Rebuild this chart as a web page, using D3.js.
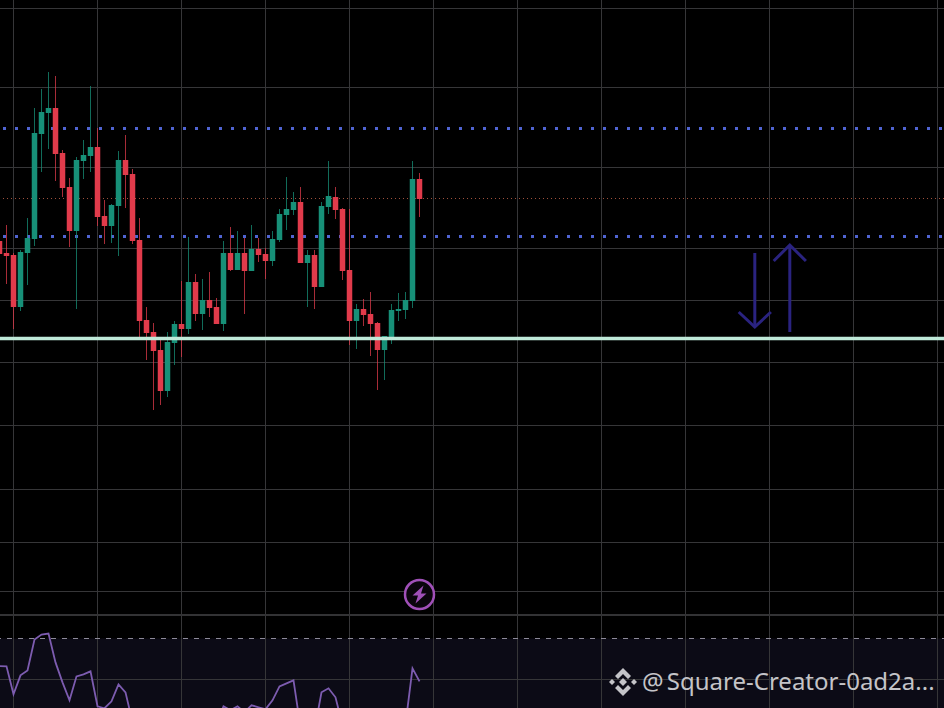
<!DOCTYPE html>
<html>
<head>
<meta charset="utf-8">
<script src="https://cdn.jsdelivr.net/npm/d3@7"></script>
<style>
html, body { margin: 0; padding: 0; background: #000; overflow: hidden; }
svg { display: block; }
</style>
</head>
<body>
<svg id="chart" width="944" height="708"></svg>
<script>
// candles, no axis labels on the picture so prices are in chart units
var opens  = [467,455,453,401,455,469,574,595,600,555,521,477,547,552,561,492,482,502,548,534,468,388,376,358,317,365,384,379,426,394,408,401,384,455,438,455,437,459,454,447,468,493,498,506,445,453,421,501,511,499,438,387,399,394,385,358,371,397,398,407,529];
var highs  = [488,483,455,458,490,600,619,636,632,558,530,551,568,622,580,508,504,557,573,539,490,401,385,371,376,387,427,471,434,429,436,410,467,481,477,470,483,470,460,477,499,531,516,521,458,458,506,547,521,500,499,404,409,416,386,372,404,415,416,547,535];
var lows   = [452,424,379,397,423,462,536,559,527,511,461,399,529,536,482,464,465,452,500,464,371,348,298,303,311,343,351,374,387,378,391,384,377,437,438,394,437,446,429,442,466,478,493,445,401,399,421,494,489,428,363,359,382,352,318,328,364,387,389,400,491];
var closes = [454,452,401,456,470,575,596,600,554,520,477,548,553,561,491,482,503,548,533,467,387,375,357,317,366,384,379,426,394,408,400,384,455,438,455,437,459,453,447,469,494,499,506,445,453,421,502,512,498,437,387,399,393,384,358,372,398,399,408,529,509];

// rsi style line in the bottom panel, runs below the page edge in places
var rsi = [56.2,56,42,51.5,54,69.5,72,72.5,58,48,39,51,52,53.5,36,35,38.5,47,43,28,24,22,19,16,20,24,22,25,23,24,26,26.5,36,34,36,33,36.5,35.5,34.5,39,46,47.5,49,25.5,21.5,24,43,45,40.5,26.5,22,20,21,19,16,17,22,24,27,55,48.5];

var gridPrices = [699.5,620.5,540.5,459.5,407.5,345.5,282.5,218.5,165.5,116.5,28.5];
var gridCandles = [2,14,26,38,50,62,74,86,98,110,122,134];
var panelTopPrice = 70;   // rsi level of the dashed line
var paneEdgePrice = 93;   // thick line above the panel
var bluePrices = [579.5,471.5];
var redPrice = 509.5;
var supportPrice = 369.5;

// hand drawn arrows, in candle index / price
var downArrow = [[107.9,455],[107.9,381]];
var downHead = [[105.6,396],[107.9,381],[110.2,396]];
var upArrow = [[112.9,376],[112.9,463]];
var upHead = [[110.6,447],[112.9,463],[115.2,447]];

var watermark = "@ Square-Creator-0ad2a...";

var width = 944, height = 708;
var svg = d3.select("#chart");

var x = d3.scaleLinear().domain([0,134]).range([-0.5,937.5]);
var y = d3.scaleLinear().domain([0,708]).range([708,0]);
var yRsi = d3.scaleLinear().domain([0,70]).range([778,638.5]);

svg.append("rect").attr("width", width).attr("height", height).attr("fill", "#000");

// bottom panel
svg.append("rect")
	.attr("x", 0).attr("y", yRsi(panelTopPrice)).attr("width", width)
	.attr("height", height-yRsi(panelTopPrice)).attr("fill", "#0c0b16");

// grid
svg.selectAll(".hgrid").data(gridPrices).join("line")
	.attr("x1", 0).attr("x2", width)
	.attr("y1", function(d){ return y(d); }).attr("y2", function(d){ return y(d); })
	.attr("stroke", "#363638").attr("stroke-width", 1);
svg.selectAll(".vgrid").data(gridCandles).join("line")
	.attr("y1", 0).attr("y2", height)
	.attr("x1", function(d){ return x(d); }).attr("x2", function(d){ return x(d); })
	.attr("stroke", "#363638").attr("stroke-width", 1);
svg.append("line")
	.attr("x1", 0).attr("x2", width).attr("y1", y(paneEdgePrice)).attr("y2", y(paneEdgePrice))
	.attr("stroke", "#333335").attr("stroke-width", 2);

// levels behind the candles
svg.selectAll(".blue").data(bluePrices).join("line")
	.attr("x1", 3).attr("x2", width)
	.attr("y1", function(d){ return y(d); }).attr("y2", function(d){ return y(d); })
	.attr("stroke", "#5064d2").attr("stroke-width", 3).attr("stroke-dasharray", "3 9");
svg.append("line")
	.attr("x1", 3).attr("x2", width).attr("y1", y(redPrice)).attr("y2", y(redPrice))
	.attr("stroke", "#a0503c").attr("stroke-width", 1).attr("stroke-dasharray", "1 3");

// candles
var barw = 5.5;
opens.forEach(function(o, i) {
	var c = closes[i];
	var color = c >= o ? "#179078" : "#e13b4b";
	svg.append("line")
		.attr("x1", x(i)).attr("x2", x(i)).attr("y1", y(highs[i])).attr("y2", y(lows[i]))
		.attr("stroke", color).attr("stroke-width", 1).attr("opacity", 0.75);
	svg.append("rect")
		.attr("x", x(i)-barw/2).attr("width", barw)
		.attr("y", y(Math.max(o,c))).attr("height", Math.abs(o-c))
		.attr("fill", color);
});

// support line goes over the candles
svg.append("line")
	.attr("x1", 0).attr("x2", width).attr("y1", y(supportPrice)).attr("y2", y(supportPrice))
	.attr("stroke", "#bfe9d9").attr("stroke-width", 3.6);

// arrows
var arrowLine = d3.line()
	.x(function(d){ return x(d[0]); })
	.y(function(d){ return y(d[1]); });
[downArrow, downHead, upArrow, upHead].forEach(function(pts) {
	svg.append("path").attr("d", arrowLine(pts))
		.attr("fill", "none").attr("stroke", "#2a2380").attr("stroke-width", 3);
});

// dashed level + rsi line
svg.append("line")
	.attr("x1", 0).attr("x2", width).attr("y1", yRsi(panelTopPrice)).attr("y2", yRsi(panelTopPrice))
	.attr("stroke", "#8d8a98").attr("stroke-width", 1).attr("stroke-dasharray", "5 6").attr("stroke-dashoffset", 4);
var rsiLine = d3.line()
	.x(function(d,i){ return x(i); })
	.y(function(d){ return yRsi(d); });
svg.append("path").attr("d", rsiLine(rsi))
	.attr("fill", "none").attr("stroke", "#7d5cb0").attr("stroke-width", 1.8);

// lightning marker
var marker = svg.append("g").attr("transform", "translate(" + x(60) + "," + y(113.5) + ")");
marker.append("circle").attr("r", 14.5).attr("fill", "#0a050c").attr("stroke", "#a050b8").attr("stroke-width", 2.5);
marker.append("path").attr("d", "M4,-9 L-7,1 L-1.5,1 L-4,9 L7,-1 L1.5,-1 Z").attr("fill", "#a050b8");

// watermark
var logo = svg.append("g").attr("transform", "translate(623,682)").attr("fill", "#c4c4c8");
logo.append("path").attr("d", "M0,-14 L8,-6 L5,-3 L0,-8 L-5,-3 L-8,-6 Z");
logo.append("path").attr("d", "M0,14 L8,6 L5,3 L0,8 L-5,3 L-8,6 Z");
logo.append("path").attr("d", "M-11,-3 L-8,0 L-11,3 L-14,0 Z");
logo.append("path").attr("d", "M11,-3 L14,0 L11,3 L8,0 Z");
logo.append("path").attr("d", "M0,-4 L4,0 L0,4 L-4,0 Z");

svg.append("text")
	.attr("x", 642).attr("y", 690)
	.attr("font-family", "'Noto Sans', sans-serif").attr("font-size", 24)
	.attr("word-spacing", -3)
	.attr("fill", "#c4c4c8")
	.text(watermark);
</script>
</body>
</html>
